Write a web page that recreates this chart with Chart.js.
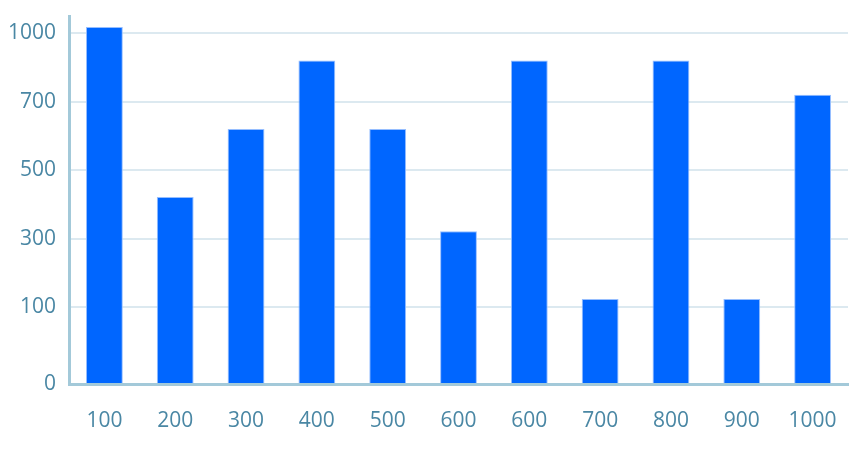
<!DOCTYPE html>
<html>
<head>
<meta charset="utf-8">
<script src="https://cdn.jsdelivr.net/npm/chart.js@4"></script>
<style>
   html, body { margin: 0; padding: 0; background: #fff; }
   #wrap { width: 850px; height: 450px; }
</style>
</head>
<body>
<div id="wrap"><canvas id="grafica"></canvas></div>
<script>
// categories along the x axis (as printed, 600 appears twice)
const categorias = ['100', '200', '300', '400', '500', '600', '600', '700', '800', '900', '1000'];

// y axis: the printed labels sit on evenly spaced gridlines except 0,
// so values are kept in "gridline slot" units of that axis
const posTicks = [0, 1.12, 2.12, 3.12, 4.12, 5.12];
const etiquetasY = ['0', '100', '300', '500', '700', '1000'];

// bar heights in the same slot units
const valores = [5.21, 2.73, 3.72, 4.72, 3.72, 2.23, 4.72, 1.24, 4.72, 1.24, 4.22];

const colorTexto = '#4a87a4';
const colorEje = '#a3c9d9';
const colorGrid = '#dce9f0';
const fuente = { family: '"Open Sans"', size: 21 };

const ctx = document.getElementById('grafica').getContext('2d');

const chart = new Chart(ctx, {
   type: 'bar',
   data: {
      labels: categorias,
      datasets: [{
         data: valores,
         backgroundColor: '#0066ff',
         borderColor: 'rgba(150,190,255,1)',
         borderWidth: 1,
         barPercentage: 0.52,
         categoryPercentage: 1
      }]
   },
   options: {
      responsive: true,
      maintainAspectRatio: false,
      animation: false,
      layout: {
         padding: { left: 7, right: 2, top: 16, bottom: 6 }
      },
      plugins: {
         legend: { display: false },
         tooltip: { enabled: false }
      },
      scales: {
         x: {
            afterFit: (scale) => {
               scale.height = 60;
               scale.paddingLeft = 0;
               scale.paddingRight = 0;
            },
            grid: { display: false, drawTicks: false },
            border: { display: true, color: colorEje, width: 3 },
            ticks: {
               color: colorTexto,
               padding: 24,
               maxRotation: 0,
               font: fuente
            }
         },
         y: {
            min: 0,
            max: 5.37,
            afterBuildTicks: (scale) => {
               scale.ticks = posTicks.map(v => ({ value: v }));
            },
            afterFit: (scale) => {
               scale.width = 62;
               scale.paddingTop = 0;
               scale.paddingBottom = 0;
            },
            grid: { color: colorGrid, lineWidth: 2, drawTicks: false },
            border: { display: true, color: colorEje, width: 3 },
            ticks: {
               color: colorTexto,
               padding: 13,
               font: fuente,
               callback: (v, i) => etiquetasY[i]
            }
         }
      }
   }
});
</script>
</body>
</html>
